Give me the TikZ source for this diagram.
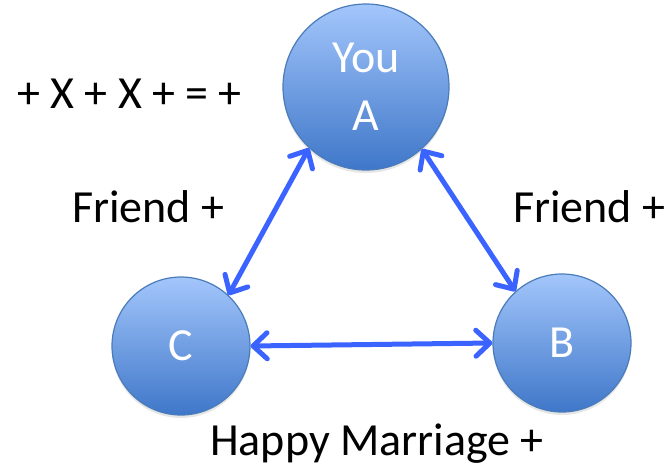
\documentclass[tikz,border=0pt]{standalone}
\usepackage{fontspec}
\setmainfont{Carlito}
\usetikzlibrary{arrows.meta,shadows}
\definecolor{bolatop}{HTML}{A3C6FB}
\definecolor{bolabot}{HTML}{3F77C9}
\definecolor{borde}{HTML}{4A7CBA}
\definecolor{flecha}{HTML}{3A63FF}
\begin{document}
\begin{tikzpicture}[x=1pt, y=-1pt,
      every node/.style={font=\fontsize{46}{58}\selectfont, inner sep=0pt},
      person/.style={circle, draw=borde, line width=1.2pt, top color=bolatop, bottom color=bolabot,
        text=white, align=center, drop shadow={opacity=0.2, shadow xshift=0pt, shadow yshift=-3pt}},
      link/.style={draw=flecha, line width=5pt,
        {Straight Barb[round, length=14pt, width=26pt]}-{Straight Barb[round, length=14pt, width=26pt]}},
      caption/.style={anchor=base west}
    ]
    \useasboundingbox (0,0) rectangle (670,466);
    % The three people in the triangle
    \node[person, minimum size=166pt] (A) at (366,87)  {You\\A};
    \node[person, minimum size=138pt] (C) at (181,346) {C};
    \node[person, minimum size=138pt] (B) at (562,343) {B};
    % Relations, arrows at both ends
    \draw[link] (A.227) -- (C.47);
    \draw[link] (A.312) -- (B.132);
    \draw[link] (C.0) -- (B.180);
    % Texts beside the edges
    \node[caption] (sign)  at (17,108)  {+ X + X + = +};
    \node[caption] (fl)    at (72,222)  {Friend +};
    \node[caption] (fr)    at (513,222) {Friend +};
    \node[caption] (happy) at (210,455) {Happy Marriage +};
  \end{tikzpicture}
\end{document}
